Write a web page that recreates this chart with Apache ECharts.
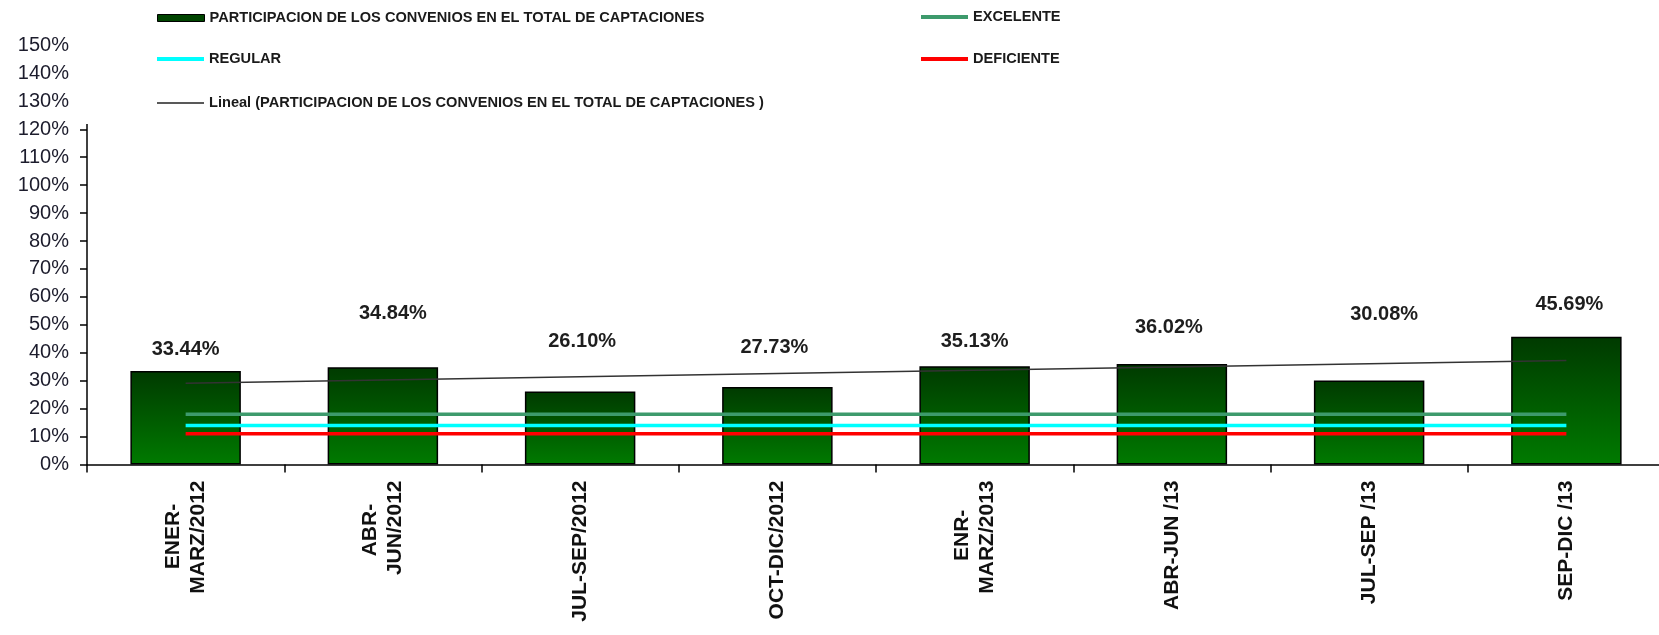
<!DOCTYPE html>
<html lang="es">
<head>
<meta charset="UTF-8">
<title>Participacion de los convenios</title>
<script src="https://cdn.jsdelivr.net/npm/echarts@6/dist/echarts.min.js"></script>
<style>
    html, body { margin: 0; padding: 0; background: #fff; }
    #main { width: 1659px; height: 635px; }
</style>
</head>
<body>
<div id="main"></div>
<script>
    // datos
    var periodos = ['ENER-\nMARZ/2012', 'ABR-\nJUN/2012', 'JUL-SEP/2012', 'OCT-DIC/2012',
                    'ENR-\nMARZ/2013', 'ABR-JUN /13', 'JUL-SEP /13', 'SEP-DIC /13'];
    var participacion = [33.44, 34.84, 26.10, 27.73, 35.13, 36.02, 30.08, 45.69];
    var excelente  = [18, 18, 18, 18, 18, 18, 18, 18];
    var regular    = [14, 14, 14, 14, 14, 14, 14, 14];
    var deficiente = [11, 11, 11, 11, 11, 11, 11, 11];
    // tendencia lineal (inicio y fin)
    var lineal = [29.1, null, null, null, null, null, null, 37.2];
    // eje y
    var yMin = 0, yMax = 150, yPaso = 10;

    var nombreBarra = 'PARTICIPACION DE LOS CONVENIOS EN EL TOTAL DE CAPTACIONES';
    var nombreLineal = 'Lineal (PARTICIPACION DE LOS CONVENIOS EN EL TOTAL DE CAPTACIONES )';

    // posicion de las etiquetas de valor (como en el original de excel)
    var desplazEtiqueta = [[0, -12], [10, -44], [2, -40], [-3, -30], [0, -15], [-3, -26], [15, -56], [3, -22]];

    var fuente = '"Liberation Sans", Arial, sans-serif';

    // centrar la linea corta dentro de las etiquetas de dos lineas
    var medidor = document.createElement('canvas').getContext('2d');
    medidor.font = 'bold 21px "Liberation Sans"';
    function centrarLineas(txt) {
        var lineas = txt.split('\n');
        if (lineas.length < 2) return txt;
        var anchos = lineas.map(function (l) { return medidor.measureText(l).width; });
        var max = Math.max.apply(null, anchos);
        var esp = medidor.measureText(' ').width;
        return lineas.map(function (l, i) {
            return l + new Array(Math.round((max - anchos[i]) / 2 / esp) + 1).join(' ');
        }).join('\n');
    }

    function leyenda(nombre, x, y, alto, estilo) {
        return {
            data: [{ name: nombre, icon: 'rect', itemStyle: estilo }],
            left: x, top: y,
            padding: 0,
            itemWidth: 47, itemHeight: alto, itemGap: 0,
            selectedMode: false,
            z: 20,
            textStyle: { fontFamily: fuente, fontWeight: 'bold', fontSize: 14.6, lineHeight: 16, color: '#1a1a1a' }
        };
    }

    var myChart = echarts.init(document.getElementById('main'));

    var option = {
        animation: false,
        backgroundColor: '#fff',
        legend: [
            leyenda(nombreBarra, 157, 10, 7, { color: '#004400', borderColor: '#000', borderWidth: 1 }),
            leyenda('EXCELENTE', 921, 9, 4, { color: '#3d9a6c', borderWidth: 0 }),
            leyenda('REGULAR', 157, 51, 4, { color: '#00ffff', borderWidth: 0 }),
            leyenda('DEFICIENTE', 921, 51, 4, { color: '#ff0000', borderWidth: 0 }),
            leyenda(nombreLineal, 157, 95, 1.5, { color: '#222', borderWidth: 0 })
        ],
        graphic: [{
            // el cuadro de leyenda tapa la parte alta del eje
            type: 'rect', left: 79, top: 0, z: 10,
            shape: { width: 1580, height: 124 },
            style: { fill: '#fff' }
        }],
        grid: {
            left: 87, top: 45.5, width: 1578, height: 419,
            containLabel: false,
            outerBoundsMode: 'none'
        },
        xAxis: {
            type: 'category',
            data: periodos,
            boundaryGap: true,
            axisLine: { lineStyle: { color: '#000', width: 1.5 } },
            axisTick: { show: true, length: 8, lineStyle: { color: '#000', width: 1.5 } },
            axisLabel: {
                interval: 0, rotate: 90, margin: 16,
                fontFamily: fuente, fontWeight: 'bold', fontSize: 21, lineHeight: 25, color: '#111',
                formatter: centrarLineas
            },
            splitLine: { show: false }
        },
        yAxis: {
            type: 'value',
            min: yMin, max: yMax, interval: yPaso,
            axisLine: { show: true, lineStyle: { color: '#000', width: 1.5 } },
            axisTick: { show: true, length: 7, lineStyle: { color: '#000', width: 1.5 } },
            axisLabel: { margin: 18, fontFamily: fuente, fontSize: 20, color: '#1c1c2c', formatter: '{value}%' },
            splitLine: { show: false }
        },
        series: [
            {
                name: nombreBarra,
                type: 'bar',
                barWidth: '56%',
                data: participacion.map(function (v, i) {
                    return { value: v, label: { offset: desplazEtiqueta[i] } };
                }),
                itemStyle: {
                    color: new echarts.graphic.LinearGradient(0, 0, 0, 1, [
                        { offset: 0, color: '#003a00' },
                        { offset: 1, color: '#007a00' }
                    ]),
                    borderColor: '#000',
                    borderWidth: 1.5
                },
                label: {
                    show: true, position: 'top', distance: 0,
                    fontFamily: fuente, fontWeight: 'bold', fontSize: 20, lineHeight: 20, color: '#1e1e1e',
                    formatter: function (p) { return p.value.toFixed(2) + '%'; }
                }
            },
            {
                name: 'EXCELENTE', type: 'line', data: excelente, symbol: 'none',
                lineStyle: { color: '#3d9a6c', width: 3.5 }, itemStyle: { color: '#3d9a6c' }
            },
            {
                name: 'REGULAR', type: 'line', data: regular, symbol: 'none',
                lineStyle: { color: '#00ffff', width: 3.5 }, itemStyle: { color: '#00ffff' }
            },
            {
                name: 'DEFICIENTE', type: 'line', data: deficiente, symbol: 'none',
                lineStyle: { color: '#ff0000', width: 3.5 }, itemStyle: { color: '#ff0000' }
            },
            {
                name: nombreLineal, type: 'line', data: lineal, symbol: 'none', connectNulls: true,
                lineStyle: { color: '#333', width: 1.5 }, itemStyle: { color: '#333' }
            }
        ]
    };

    myChart.setOption(option);
</script>
</body>
</html>
